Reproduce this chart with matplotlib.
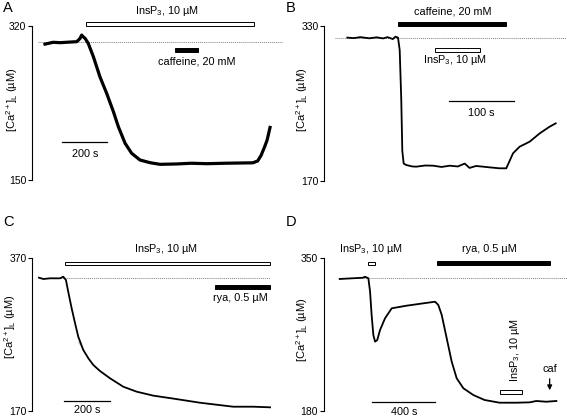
import matplotlib
matplotlib.use('Agg')
import matplotlib.pyplot as plt
from matplotlib.patches import Rectangle

plt.rcParams['font.family'] = ['Liberation Sans', 'DejaVu Sans']
plt.rcParams['mathtext.fontset'] = 'custom'
plt.rcParams['mathtext.rm'] = 'Liberation Sans'
plt.rcParams['mathtext.it'] = 'Liberation Sans:italic'

# ---------------- data (time in s, [Ca2+]L in uM) ----------------
a_t = [0, 36, 67, 141, 155, 163, 170, 178, 192, 215, 244, 274, 304, 326, 356, 385, 422, 467, 511, 585, 650, 720, 800, 880, 924, 945, 960, 975, 987, 1000]
a_ca = [300, 302, 301.6, 302.7, 306, 310, 308, 306.4, 300.9, 286.1, 264, 245.7, 225.4, 208.8, 190.5, 179.5, 172.1, 169.1, 167.3, 167.7, 168.5, 168, 168.5, 168.8, 169, 171, 177, 186, 194, 208]

b_t = [0, 10, 20, 34, 45, 55, 62, 70, 74, 78, 80.6, 83, 84.6, 86.7, 90.7, 100, 106, 120, 132, 145, 157.5, 170, 180.6, 188, 198, 208.7, 220, 234, 244.5, 254.9, 265, 280.5, 296, 311, 320.5]
b_ca = [318, 317.5, 318.5, 317.3, 318.3, 317.2, 318.5, 316.5, 319, 318, 305, 254, 201, 188, 186.5, 185, 184.8, 186, 185.8, 184.5, 185.8, 185, 188, 183.5, 185.5, 184.8, 184, 183.1, 183.1, 198.6, 205.4, 210.6, 219.2, 226, 229.5]

c_t = [0, 19, 48, 92, 106, 118, 128, 143, 158, 172, 194, 216, 238, 267, 311, 369, 428, 501, 588, 705, 851, 939, 1012]
c_ca = [343.9, 342.2, 343.1, 343.1, 345.2, 340.9, 325.6, 304, 284.4, 266.9, 249.6, 238.8, 230, 222.2, 212.7, 201.7, 195.2, 190, 186.2, 180.8, 175.6, 175.6, 174.8]

d_t = [0, 150, 162, 184, 195, 205, 216, 227, 241, 259, 291, 334, 430, 537, 612, 633, 655, 687, 719, 751, 794, 858, 930, 1027, 1134, 1220, 1262, 1326, 1391]
d_ca = [326.4, 327.8, 328.9, 327.2, 312.3, 286.5, 264.3, 256.9, 258.7, 269.8, 282.8, 293.9, 296.8, 299.4, 301.2, 297.6, 286.5, 260.6, 234.7, 216.3, 205.2, 197.7, 192.2, 189.2, 189.2, 189.6, 191.1, 190.3, 191.1]

# application intervals (s)
a_insp3 = (182, 929)
a_caff = (578, 680)
b_caff = (78, 244)
b_insp3 = (135, 204)
c_insp3 = (114, 1012)
c_rya = (771, 1012)
d_insp3_1 = (182, 229)
d_rya = (625, 1348)
d_insp3_2 = (1031, 1172)
d_caf = 1348

baseline = {'A': 302.3, 'B': 317.9, 'C': 343.9, 'D': 327.8}
scale_len = {'A': 200, 'B': 100, 'C': 200, 'D': 400}

W, H = 567, 418
fig = plt.figure(figsize=(W / 100, H / 100), dpi=100)

INS = r'InsP$_\mathregular{3}$, 10 µM'
YLAB = r'[Ca$^\mathregular{2+}$]$_\mathregular{L}$ (µM)'
FS = 7.8


def ftext(x, y, s, **kw):
    kw.setdefault('ha', 'center')
    kw.setdefault('va', 'center')
    kw.setdefault('fontsize', FS)
    fig.text(x / W, 1 - y / H, s, **kw)


class Panel:
    def __init__(self, left, right, top, bottom, ylo, yhi, t0px, spp):
        self.left, self.right, self.top, self.bottom = left, right, top, bottom
        self.ylo, self.yhi, self.t0px, self.spp = ylo, yhi, t0px, spp
        self.upp = (yhi - ylo) / (bottom - top)
        ax = fig.add_axes([left / W, 1 - bottom / H, (right - left) / W, (bottom - top) / H])
        ax.set_xlim(self.tx(left), self.tx(right))
        ax.set_ylim(ylo, yhi)
        for s in ['top', 'right', 'bottom']:
            ax.spines[s].set_visible(False)
        ax.spines['left'].set_bounds(ylo, yhi)
        ax.spines['left'].set_linewidth(0.8)
        ax.set_xticks([])
        ax.set_yticks([ylo, yhi])
        ax.tick_params(axis='y', direction='out', length=3, width=0.8, labelsize=7.5, pad=1)
        ax.patch.set_visible(False)
        self.ax = ax

    def tx(self, px):
        return (px - self.t0px) * self.spp

    def yv(self, py):
        return self.ylo + (self.bottom - py) * self.upp

    def bar(self, interval, py, hpx, filled):
        h = hpx * self.upp
        r = Rectangle((interval[0], self.yv(py) - h / 2), interval[1] - interval[0], h,
                      facecolor='black' if filled else 'white', edgecolor='black',
                      linewidth=0.7, clip_on=False)
        self.ax.add_patch(r)

    def baseline(self, v, x0px, x1px):
        self.ax.plot([self.tx(x0px), self.tx(x1px)], [v, v], color='0.5', lw=0.7,
                     linestyle=(0, (1, 1)), clip_on=False)

    def scalebar(self, x0px, py, length):
        t0 = self.tx(x0px)
        self.ax.plot([t0, t0 + length], [self.yv(py)] * 2, color='black', lw=0.9, clip_on=False)


# ---------- Panel A ----------
pA = Panel(32, 283, 26, 180, 150, 320, 45, 4.444)
pA.baseline(baseline['A'], 38, 283)
pA.ax.plot(a_t, a_ca, color='black', lw=2.3, clip_on=False, solid_joinstyle='round')
pA.bar(a_insp3, 24, 3.5, False)
pA.bar(a_caff, 50, 3.2, True)
pA.scalebar(62, 142, scale_len['A'])
ftext(167, 11, INS)
ftext(197, 61, 'caffeine, 20 mM')
ftext(85, 154, '200 s')
ftext(12, 100, YLAB, rotation=90, fontsize=8)
ftext(8, 8, 'A', fontsize=10.5)

# ---------- Panel B ----------
pB = Panel(324, 567, 26, 181, 170, 330, 347.3, 1.538)
pB.baseline(baseline['B'], 335, 567)
pB.ax.plot(b_t, b_ca, color='black', lw=1.3, clip_on=False)
pB.bar(b_caff, 24, 3.2, True)
pB.bar(b_insp3, 50, 3.5, False)
pB.scalebar(449, 101, scale_len['B'])
ftext(453, 12, 'caffeine, 20 mM')
ftext(455, 60, INS)
ftext(481, 113, '100 s')
ftext(302, 100, YLAB, rotation=90, fontsize=8)
ftext(291, 8, 'B', fontsize=10.5)

# ---------- Panel C ----------
pC = Panel(32, 283, 257.7, 411, 170, 370, 39, 4.38)
pC.baseline(baseline['C'], 39, 270)
# faint exponential fit segment
pC.ax.plot([pC.tx(78.5), pC.tx(88)], [pC.yv(342), pC.yv(357)], color='0.7', lw=0.6)
pC.ax.plot(c_t, c_ca, color='black', lw=1.3, clip_on=False)
pC.bar(c_insp3, 263.3, 3.5, False)
pC.bar(c_rya, 286.7, 4, True)
pC.scalebar(64.3, 400.7, scale_len['C'])
ftext(166, 249.3, INS)
ftext(240, 298, 'rya, 0.5 µM')
ftext(87, 410, '200 s')
ftext(10, 327, YLAB, rotation=90, fontsize=8)
ftext(8, 222, 'C', fontsize=10.5)

# ---------- Panel D ----------
pD = Panel(323.7, 567, 257.7, 411, 180, 350, 339.7, 6.42)
pD.baseline(baseline['D'], 339.7, 567)
pD.ax.plot(d_t, d_ca, color='black', lw=1.3, clip_on=False)
pD.bar(d_insp3_1, 263.3, 3.5, False)
pD.bar(d_rya, 263.3, 4, True)
pD.bar(d_insp3_2, 391.7, 3.8, False)
pD.scalebar(372.3, 401.7, scale_len['D'])
pD.ax.annotate('', xy=(d_caf, pD.yv(393)), xytext=(d_caf, pD.yv(376)),
               arrowprops=dict(arrowstyle='-|>', color='black', lw=0.9, mutation_scale=7),
               annotation_clip=False)
ftext(371, 249.3, INS)
ftext(489.7, 249.3, 'rya, 0.5 µM')
ftext(514.7, 350, INS, rotation=90)
ftext(549.7, 369, 'caf')
ftext(403.7, 411.7, '400 s')
ftext(302, 330, YLAB, rotation=90, fontsize=8)
ftext(291, 222, 'D', fontsize=10.5)

fig.savefig('out.png', dpi=100)
